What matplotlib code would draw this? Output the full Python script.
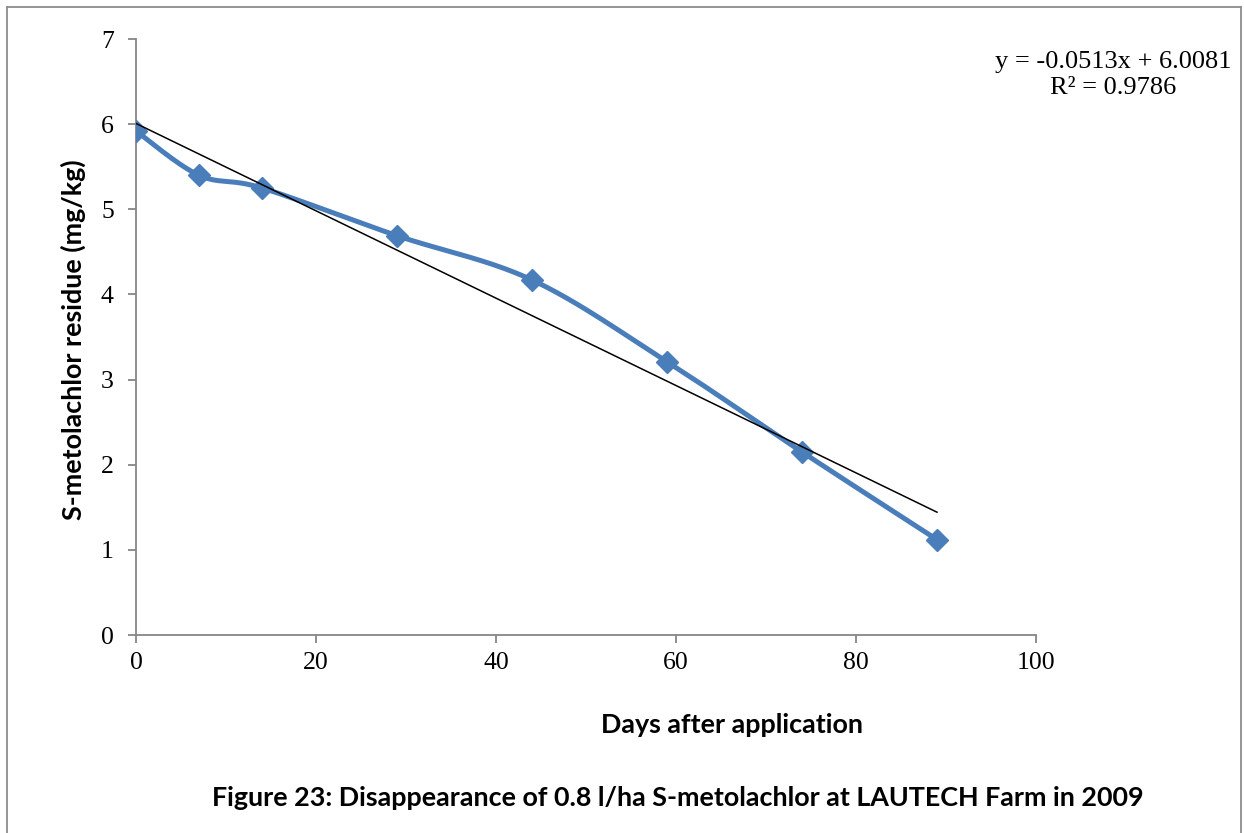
import numpy as np
import matplotlib
matplotlib.use("Agg")
import matplotlib.pyplot as plt
from matplotlib.lines import Line2D

# Residue measurements
days = [0, 7, 14, 29, 44, 59, 74, 89]
residue = [5.92, 5.40, 5.25, 4.69, 4.17, 3.21, 2.15, 1.12]

# Linear trend reported with the series
slope = -0.0513
intercept = 6.0081
r_squared = 0.9786

x_ticks = [0, 20, 40, 60, 80, 100]
y_ticks = [0, 1, 2, 3, 4, 5, 6, 7]

W, H = 1244, 833
fig = plt.figure(figsize=(W / 100, H / 100), dpi=100)
fig.patch.set_facecolor("white")

ax_l, ax_r, ax_t, ax_b = 136, 1036, 39, 635
ax = fig.add_axes([ax_l / W, 1 - ax_b / H, (ax_r - ax_l) / W, (ax_b - ax_t) / H])
ax.set_xlim(0, 100)
ax.set_ylim(0, 7)


def smooth_curve(xs, ys, sx, sy, n=40):
    """Bezier smoothing through the points (Catmull-Rom style control points)."""
    p = np.column_stack([np.asarray(xs, float) * sx, np.asarray(ys, float) * sy])
    out = []
    for i in range(len(p) - 1):
        p0 = p[i - 1] if i > 0 else p[i]
        p1, p2 = p[i], p[i + 1]
        p3 = p[i + 2] if i + 2 < len(p) else p[i + 1]
        c1 = p1 + (p2 - p0) / 6.0
        c2 = p2 - (p3 - p1) / 6.0
        t = np.linspace(0, 1, n)[:, None]
        seg = ((1 - t) ** 3) * p1 + 3 * ((1 - t) ** 2) * t * c1 + 3 * (1 - t) * t ** 2 * c2 + t ** 3 * p2
        out.append(seg if i == 0 else seg[1:])
    pts = np.vstack(out)
    return pts[:, 0] / sx, pts[:, 1] / sy


# scale factors so the smoothing happens in screen-like proportions
sx = (ax_r - ax_l) / 100.0
sy = (ax_b - ax_t) / 7.0
cx, cy = smooth_curve(days, residue, sx, sy)

blue = "#4A7EBB"
ax.plot(cx, cy, color=blue, lw=3.6, solid_capstyle="round", zorder=3)
ax.plot(days, residue, ls="none", marker="D", ms=11, color=blue, zorder=4)

tx = np.array([days[0], days[-1]])
ax.plot(tx, slope * tx + intercept, color="black", lw=1.1, zorder=5)

axis_gray = "#868686"
for side in ["top", "right"]:
    ax.spines[side].set_visible(False)
for side in ["left", "bottom"]:
    ax.spines[side].set_color(axis_gray)
    ax.spines[side].set_linewidth(1.3)

ax.set_xticks(x_ticks)
ax.set_yticks(y_ticks)
ax.tick_params(axis="both", direction="out", length=6, width=1.3, color=axis_gray,
               labelsize=18.5, pad=4)
for lab in ax.get_xticklabels() + ax.get_yticklabels():
    lab.set_fontfamily("Liberation Serif")
ax.tick_params(axis="y", pad=10)
ax.tick_params(axis="x", pad=6)

label_font = {"family": "Lato", "weight": "bold", "size": 19.4}
fig.text(732 / W, 1 - 725 / H, "Days after application", ha="center", va="center", **label_font)
fig.text(73 / W, 1 - 340 / H, "S-metolachlor residue (mg/kg)", ha="center", va="center",
         rotation=90, **label_font)
fig.text(678 / W, 1 - 798 / H,
         "Figure 23: Disappearance of 0.8 l/ha S-metolachlor at LAUTECH Farm in 2009",
         ha="center", va="center", **label_font)

eq = f"y = {slope:.4f}x + {intercept:.4f}\nR\u00b2 = {r_squared:.4f}"
fig.text(1113 / W, 1 - 75 / H, eq, ha="center", va="center", family="Liberation Serif",
         size=19, linespacing=1.25)

# outer chart frame
frame_c = "#8C8C8C"
fig.add_artist(Line2D([7 / W, 7 / W], [0, 1 - 7 / H], transform=fig.transFigure, color=frame_c, lw=1.3))
fig.add_artist(Line2D([7 / W, 1241 / W], [1 - 7 / H, 1 - 7 / H], transform=fig.transFigure, color=frame_c, lw=1.3))
fig.add_artist(Line2D([1241 / W, 1241 / W], [0, 1 - 7 / H], transform=fig.transFigure, color=frame_c, lw=1.3))

fig.savefig("out.png", dpi=100, facecolor="white")
